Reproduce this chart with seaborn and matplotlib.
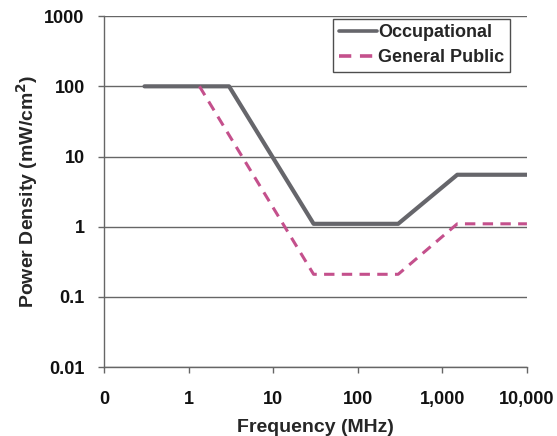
import numpy as np
import pandas as pd
import matplotlib
matplotlib.use("Agg")
import matplotlib.pyplot as plt
import seaborn as sns

# breakpoints (MHz, mW/cm^2)
occ_freq = [0.3, 3, 30, 300, 1500, 10000]
occ_power = [100, 100, 1.1, 1.1, 5.5, 5.5]
gp_freq = [1.34, 30, 300, 1500, 10000]
gp_power = [100, 0.21, 0.21, 1.1, 1.1]

x_ticks = [0.1, 1, 10, 100, 1000, 10000]
x_labels = ["0", "1", "10", "100", "1,000", "10,000"]
y_ticks = [0.01, 0.1, 1, 10, 100, 1000]
y_labels = ["0.01", "0.1", "1", "10", "100", "1000"]

df = pd.concat([
    pd.DataFrame({"freq": occ_freq, "power": occ_power, "series": "Occupational"}),
    pd.DataFrame({"freq": gp_freq, "power": gp_power, "series": "General Public"}),
])

sns.set_style("white")
plt.rcParams["font.family"] = ["Liberation Sans", "DejaVu Sans"]
plt.rcParams["font.weight"] = "bold"

fig, ax = plt.subplots(figsize=(5.57, 4.36), dpi=100)
fig.subplots_adjust(left=0.187, right=0.946, top=0.963, bottom=0.158)

palette = {"Occupational": "#66666b", "General Public": "#c4508c"}
dashes = {"Occupational": "", "General Public": (3.4, 2.4)}
sns.lineplot(data=df, x="freq", y="power", hue="series", style="series",
             palette=palette, dashes=dashes, linewidth=2.6, ax=ax,
             estimator=None, sort=False)
ax.lines[0].set_linewidth(3.0)
ax.lines[1].set_linewidth(2.2)

ax.set_xscale("log")
ax.set_yscale("log")
ax.set_xlim(0.1, 10000)
ax.set_ylim(0.01, 1000)
ax.set_xticks(x_ticks)
ax.set_xticklabels(x_labels)
ax.set_yticks(y_ticks)
ax.set_yticklabels(y_labels)
ax.minorticks_off()
ax.tick_params(axis="both", labelsize=13, labelcolor="#111111", color="#666666",
               length=4, width=1, direction="out")
ax.tick_params(axis="x", pad=13, bottom=True)
ax.tick_params(axis="y", pad=10, left=True)
ax.yaxis.grid(True, color="#666666", linewidth=1)

for s in ["top", "right"]:
    ax.spines[s].set_visible(False)
for s in ["left", "bottom"]:
    ax.spines[s].set_color("#666666")
    ax.spines[s].set_linewidth(1)

ax.set_xlabel("Frequency (MHz)", fontsize=14, fontweight="bold", labelpad=8)
ax.set_ylabel("Power Density (mW/cm$^\\mathbf{2}$)", fontsize=14, fontweight="bold", labelpad=3)

leg = ax.legend(loc="upper right", bbox_to_anchor=(0.96, 0.992), frameon=True,
                fancybox=False, edgecolor="#222222", fontsize=13,
                handlelength=2.1, handletextpad=0.1, borderpad=0.3,
                labelspacing=0.45, borderaxespad=0, title=None)
leg.get_frame().set_linewidth(1)

fig.savefig("out.png", dpi=100)
